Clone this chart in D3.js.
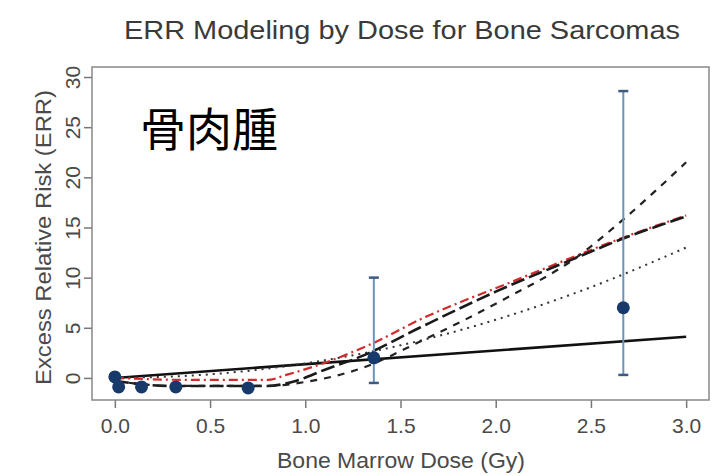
<!DOCTYPE html>
<html>
<head>
<meta charset="utf-8">
<script src="https://cdn.jsdelivr.net/npm/d3@7"></script>
<style>
  body { margin: 0; background: #fff; }
  svg { display: block; font-family: "Liberation Sans", Arial, sans-serif; }
</style>
</head>
<body>
<svg width="719" height="476"></svg>
<script>
// observed points with error bars
const obsDose = [0.0, 0.02, 0.14, 0.32, 0.70, 1.36, 2.67];
const obsErr  = [0.1, -0.9, -0.9, -0.9, -1.0, 2.0, 7.0];
const obsLo   = [null, null, null, null, null, -0.5, 0.3];
const obsHi   = [null, null, null, null, null, 10.0, 28.6];

// fitted model curves
const linDose = [0, 3.0];
const linErr  = [0, 4.1];

const quadDose = [0, 0.5, 1.0, 1.5, 2.0, 2.5, 3.0];
const quadErr  = [0, 0.36, 1.45, 3.25, 5.8, 9.05, 13.0];

const redDose = [0, 0.4, 0.8, 0.9, 1.13, 1.36, 1.6, 2.1, 2.4, 2.67, 3.0];
const redErr  = [0, -0.2, -0.2, 0.3, 1.7, 3.5, 5.8, 9.7, 12.0, 14.0, 16.2];

const thrDose = [0, 0.3, 0.8, 0.95, 1.1, 1.3, 1.6, 2.0, 2.4, 2.67, 3.0];
const thrErr  = [-0.3, -0.8, -0.8, -0.3, 0.8, 2.2, 5.0, 8.6, 11.8, 13.9, 16.1];

const steepDose = [0, 0.3, 0.8, 1.0, 1.3, 1.6, 2.04, 2.43, 2.67, 3.0];
const steepErr  = [-0.3, -0.8, -0.8, -0.4, 1.0, 3.6, 7.8, 12.1, 15.8, 21.5];

const xTicks = [0, 0.5, 1.0, 1.5, 2.0, 2.5, 3.0];
const yTicks = [0, 5, 10, 15, 20, 25, 30];

const svg = d3.select("svg");
const x = d3.scaleLinear().domain([-0.12, 3.12]).range([92, 709]);
const y = d3.scaleLinear().domain([-2.2, 31.0]).range([400, 67]);

const zip = (xs, ys) => xs.map((d, i) => ({x: d, y: ys[i]}));
const line = d3.line()
    .x(d => x(d.x))
    .y(d => y(d.y))
    .curve(d3.curveMonotoneX);

// title
svg.append("text")
    .attr("x", 124).attr("y", 39)
    .attr("textLength", 556).attr("lengthAdjust", "spacingAndGlyphs")
    .attr("font-size", 26).attr("fill", "#3a3a3a")
    .text("ERR Modeling by Dose for Bone Sarcomas");

// axes (R style, outward ticks)
const xAxis = svg.append("g")
    .attr("transform", "translate(0,400)")
    .call(d3.axisBottom(x).tickValues(xTicks).tickFormat(d3.format(".1f")).tickSize(8).tickPadding(10));
xAxis.select(".domain").remove();
xAxis.selectAll("line").attr("stroke", "#777").attr("stroke-width", 1.5);
xAxis.selectAll("text").attr("font-size", 21).attr("fill", "#4a4a4a")
    .attr("font-family", "Liberation Sans, Arial, sans-serif");

const yAxis = svg.append("g")
    .attr("transform", "translate(92,0)")
    .call(d3.axisLeft(y).tickValues(yTicks).tickSize(8).tickPadding(0));
yAxis.select(".domain").remove();
yAxis.selectAll("line").attr("stroke", "#777").attr("stroke-width", 1.5);
yAxis.selectAll("text")
    .attr("font-size", 21).attr("fill", "#4a4a4a")
    .attr("font-family", "Liberation Sans, Arial, sans-serif")
    .attr("text-anchor", "middle").attr("dy", 0).attr("x", 0)
    .attr("transform", "translate(-12,0) rotate(-90)");

// plot box
svg.append("rect")
    .attr("x", 92).attr("y", 67).attr("width", 617).attr("height", 333)
    .attr("fill", "none").attr("stroke", "#888").attr("stroke-width", 1.5);

// axis titles
svg.append("text")
    .attr("x", 277).attr("y", 468)
    .attr("textLength", 248).attr("lengthAdjust", "spacingAndGlyphs")
    .attr("font-size", 22).attr("fill", "#4a4a4a")
    .text("Bone Marrow Dose (Gy)");

svg.append("text")
    .attr("transform", "translate(51,385) rotate(-90)")
    .attr("textLength", 295).attr("lengthAdjust", "spacingAndGlyphs")
    .attr("font-size", 22).attr("fill", "#4a4a4a")
    .text("Excess Relative Risk (ERR)");

// label
svg.append("text")
    .attr("x", 140).attr("y", 146)
    .attr("font-size", 46)
    .attr("font-family", "Noto Sans CJK JP")
    .attr("fill", "#000")
    .text("骨肉腫");

// curves
const curves = [
    {data: zip(linDose, linErr), color: "#111", width: 2.6, dash: null},
    {data: zip(quadDose, quadErr), color: "#333", width: 2, dash: "2,5"},
    {data: zip(redDose, redErr), color: "#d42a2a", width: 2.2, dash: "9,4,2,4"},
    {data: zip(thrDose, thrErr), color: "#1a1a1a", width: 2.6, dash: "14,5"},
    {data: zip(steepDose, steepErr), color: "#222", width: 2.2, dash: "7,7"}
];
svg.selectAll("path.curve")
    .data(curves)
    .join("path")
    .attr("class", "curve")
    .attr("d", d => line(d.data))
    .attr("fill", "none")
    .attr("stroke", d => d.color)
    .attr("stroke-width", d => d.width)
    .attr("stroke-dasharray", d => d.dash);

// error bars
const obs = obsDose.map((d, i) => ({x: d, y: obsErr[i], lo: obsLo[i], hi: obsHi[i]}));
const bars = obs.filter(d => d.lo !== null);
svg.selectAll("line.err")
    .data(bars)
    .join("line")
    .attr("class", "err")
    .attr("x1", d => x(d.x)).attr("x2", d => x(d.x))
    .attr("y1", d => y(d.lo)).attr("y2", d => y(d.hi))
    .attr("stroke", "#6f93b8").attr("stroke-width", 2);
["lo", "hi"].forEach(k => {
    svg.selectAll("line.cap-" + k)
        .data(bars)
        .join("line")
        .attr("class", "cap-" + k)
        .attr("x1", d => x(d.x) - 5).attr("x2", d => x(d.x) + 5)
        .attr("y1", d => y(d[k])).attr("y2", d => y(d[k]))
        .attr("stroke", "#3d5a80").attr("stroke-width", 2.5);
});

// points
svg.selectAll("circle.pt")
    .data(obs)
    .join("circle")
    .attr("class", "pt")
    .attr("cx", d => x(d.x))
    .attr("cy", d => y(d.y))
    .attr("r", 6.5)
    .attr("fill", "#173a6b");
</script>
</body>
</html>
